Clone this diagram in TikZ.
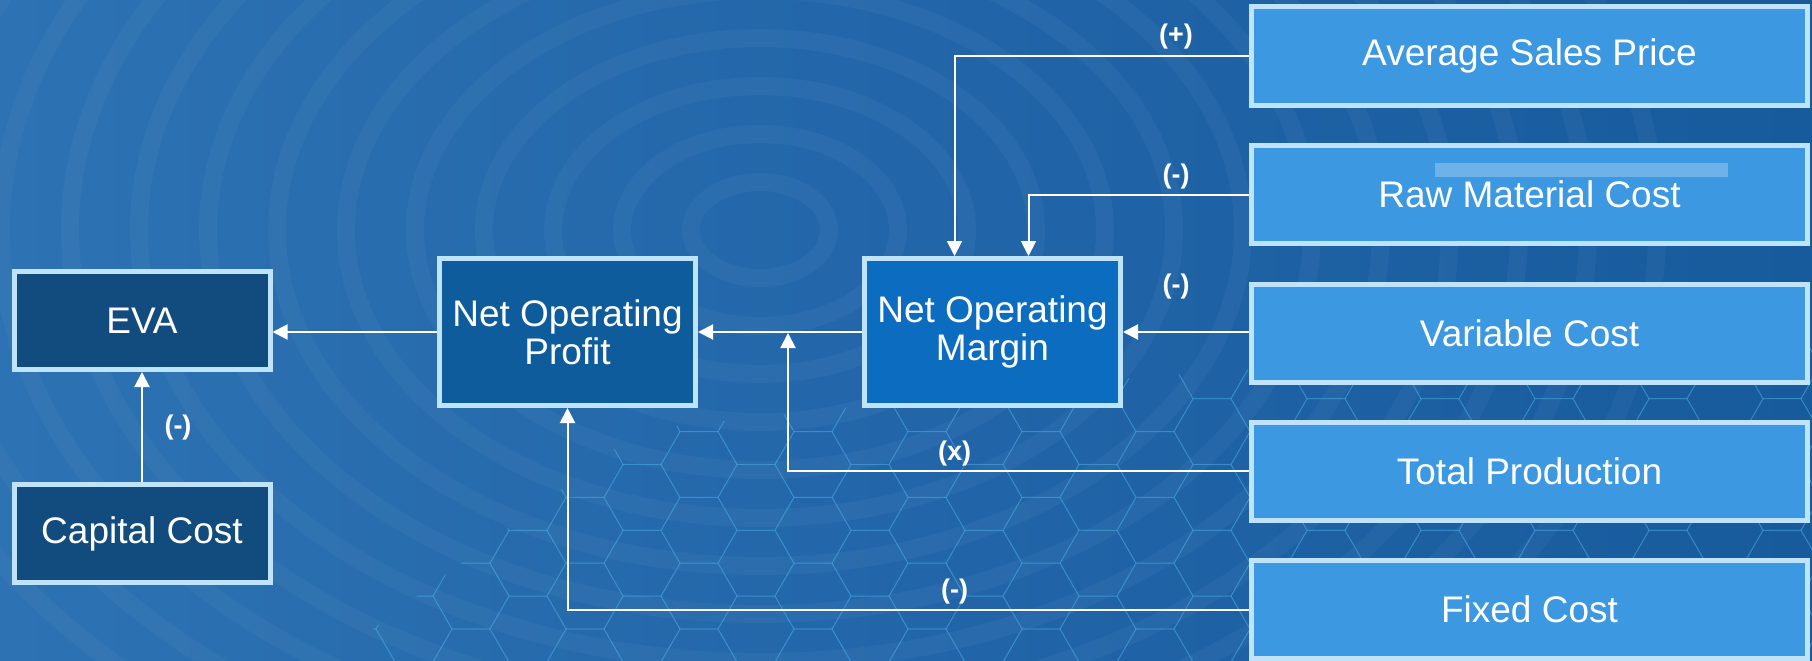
\documentclass[tikz,border=0pt]{standalone}
\usepackage{fontspec}
\setmainfont{Liberation Sans}
\usetikzlibrary{arrows.meta}

\definecolor{bgbase}{HTML}{2266A9}
\definecolor{bgleft}{HTML}{2D72B2}
\definecolor{bgright}{HTML}{175B9D}
\definecolor{hexline}{HTML}{4DB4EA}
\definecolor{edge}{HTML}{BFE3FA}
\definecolor{darkfill}{HTML}{124C7E}
\definecolor{midfill}{HTML}{0E5C9C}
\definecolor{nomfill}{HTML}{0B6CC0}
\definecolor{inputfill}{HTML}{3B98E1}
\definecolor{barfill}{HTML}{6DB3EA}

\begin{document}
\begin{tikzpicture}[x=1pt,y=-1pt,
  box/.style={draw=edge, line width=5pt, text=white, align=center, inner sep=0pt,
              font=\fontsize{37}{38}\selectfont},
  outbox/.style={box, fill=darkfill, minimum width=256pt, minimum height=98pt},
  calcbox/.style={box, minimum width=256pt, minimum height=147pt},
  inbox/.style={box, fill=inputfill, minimum width=556pt, minimum height=98pt},
  arr/.style={draw=white, line width=2pt, -{Triangle[length=15pt,width=15pt]}},
  sign/.style={text=white, font=\fontsize{27}{28}\selectfont\bfseries, inner sep=0pt}]

% background
\shade[left color=bgleft, right color=bgright, middle color=bgbase] (0,0) rectangle (1812,661);
\useasboundingbox (0,0) rectangle (1812,661);
\begin{scope}
  \clip (0,0) rectangle (1812,661);
  \foreach \r in {60,120,...,780}
    \draw[white, opacity=0.035, line width=18pt] (760,230) ellipse ({\r*1.15} and {\r*0.8});
  % hexagonal mesh in the lower part
  \begin{scope}
    \clip (330,661) -- (640,430) -- (1100,380) -- (1812,330) -- (1812,661) -- cycle;
    \foreach \i in {0,...,34}{
      \foreach \j in {0,...,6}{
        \pgfmathsetmacro{\cx}{300+\i*57}
        \pgfmathsetmacro{\cy}{300+\j*65.8+mod(\i,2)*32.9}
        \draw[hexline, opacity=0.3, line width=1pt]
          (\cx,\cy) +(0:38) -- +(60:38) -- +(120:38) -- +(180:38)
                    -- +(240:38) -- +(300:38) -- cycle;
      }
    }
  \end{scope}
\end{scope}

% blocks
\node[outbox] (eva) at (142,320.5) {EVA};
\node[outbox] (cap) at (142,533.5) {Capital Cost};
\node[calcbox, fill=midfill] (nop) at (567.5,332) {Net Operating\\Profit};
\node[calcbox, fill=nomfill] (nom) at (992.5,332) {Net Operating\\Margin};
\node[inbox] (asp) at (1529.5,56) {Average Sales Price};
\node[inbox] (rmc) at (1529.5,194.5) {};
\fill[barfill] (1435,163) rectangle (1728,177);
\node[box, draw=none, text=white] (rmct) at (rmc) {Raw Material Cost};
\node[inbox] (vc)  at (1529.5,333.5) {Variable Cost};
\node[inbox] (tp)  at (1529.5,471) {Total Production};
\node[inbox] (fc)  at (1529.5,609.5) {Fixed Cost};

% connectors
\coordinate (nomA) at ([xshift=-38pt]nom.north);
\coordinate (nomB) at ([xshift=36pt]nom.north);
\coordinate (tpj) at (788,333);
\draw[arr] (asp.west) -| (nomA);
\draw[arr] (rmc.west) -| (nomB);
\draw[arr] (vc.west |- nom.east) -- (nom.east);
\draw[arr] (nom.west) -- (nop.east);
\draw[arr] (nop.west) -- (nop.west -| eva.east);
\draw[arr] (tp.west) -| (tpj);
\draw[arr] (fc.west) -| (nop.south);
\draw[arr] (cap.north) -- (eva.south);

% signs
\node[sign] (s1) at (1176,37) {(+)};
\node[sign] (s2) at (1176,177) {(-)};
\node[sign] (s3) at (1176,287) {(-)};
\node[sign] (s4) at (954.5,454) {(x)};
\node[sign] (s5) at (954.5,592) {(-)};
\node[sign] (s6) at (178,427.5) {(-)};
\end{tikzpicture}
\end{document}
